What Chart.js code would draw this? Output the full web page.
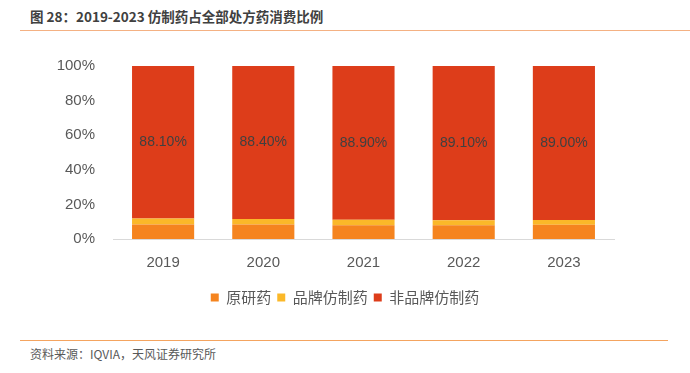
<!DOCTYPE html>
<html>
<head>
<meta charset="utf-8">
<script src="https://cdn.jsdelivr.net/npm/chart.js@4.4.1/dist/chart.umd.min.js"></script>
<style>
  body { margin: 0; width: 690px; height: 373px; background: #fff; position: relative; overflow: hidden;
         font-family: "Noto Sans CJK SC", "Noto Sans", sans-serif; }
  .title { position: absolute; left: 30px; top: 6px; font-size: 13.5px; font-weight: bold; color: #404040; }
  .topline { position: absolute; left: 20px; right: 0; top: 30px; height: 1px; background: #F4B183; }
  .botline { position: absolute; left: 20px; width: 648px; top: 340px; height: 1px; background: #F4A460; }
  .source { position: absolute; left: 30px; top: 345px; font-size: 12px; color: #595959; }
  #c { position: absolute; left: 0; top: 40px; }
</style>
</head>
<body>
<div class="title">图 28：2019-2023 仿制药占全部处方药消费比例</div>
<div class="topline"></div>
<canvas id="c" width="690" height="275"></canvas>
<div class="botline"></div>
<div class="source">资料来源：IQVIA，天风证券研究所</div>
<script>
  const years = ['2019', '2020', '2021', '2022', '2023'];
  const originalDrug = [8.4, 8.4, 8.0, 8.0, 8.3];
  const brandedGeneric = [3.5, 3.2, 3.1, 2.9, 2.7];
  const unbrandedGeneric = [88.1, 88.4, 88.9, 89.1, 89.0];
  const yTicks = [0, 20, 40, 60, 80, 100];

  const labelPlugin = {
    id: 'redLabels',
    afterDatasetsDraw(chart) {
      const ctx = chart.ctx;
      const meta = chart.getDatasetMeta(2);
      ctx.save();
      ctx.fillStyle = '#404040';
      ctx.font = '14px "Liberation Sans", Arial, sans-serif';
      ctx.textAlign = 'center';
      ctx.textBaseline = 'middle';
      meta.data.forEach((bar, i) => {
        const mid = (bar.y + bar.base) / 2;
        ctx.fillText(unbrandedGeneric[i].toFixed(2) + '%', bar.x, mid);
      });
      ctx.restore();
    }
  };

  const tickFont = { size: 15, family: '"Liberation Sans", Arial, sans-serif' };

  new Chart(document.getElementById('c'), {
    type: 'bar',
    data: {
      labels: years,
      datasets: [
        { label: '原研药', data: originalDrug, backgroundColor: '#F5841F' },
        { label: '品牌仿制药', data: brandedGeneric, backgroundColor: '#FBB829' },
        { label: '非品牌仿制药', data: unbrandedGeneric, backgroundColor: '#DD3D1A' },
      ],
    },
    options: {
      responsive: false,
      animation: false,
      layout: { padding: { top: 26, right: 0, left: 0, bottom: 0 } },
      datasets: { bar: { categoryPercentage: 1, barPercentage: 0.62 } },
      scales: {
        x: {
          stacked: true,
          grid: { display: false },
          border: { color: '#D9D9D9' },
          ticks: { color: '#595959', font: tickFont, padding: 7 },
          afterFit: (s) => { s.height += 5; },
        },
        y: {
          stacked: true,
          min: 0,
          max: 100,
          afterFit: (s) => { s.width = 113; },
          afterBuildTicks: (s) => { s.ticks = yTicks.map(v => ({ value: v })); },
          grid: { display: false },
          border: { display: false },
          ticks: {
            color: '#595959',
            padding: 10,
            font: tickFont,
            callback: (v) => v + '%',
          },
        },
        // empty right-hand axis, only reserves the blank margin so the legend stays centred on the page
        spacer: {
          position: 'right',
          grid: { display: false },
          border: { display: false },
          ticks: { display: false },
          afterFit: (s) => { s.width = 76; },
        },
      },
      plugins: {
        legend: {
          position: 'bottom',
          labels: {
            boxWidth: 8,
            boxHeight: 8,
            padding: 6,
            color: '#595959',
            font: { size: 15, family: '"Noto Sans CJK SC", sans-serif' },
          },
        },
        tooltip: { enabled: false },
      },
    },
    plugins: [labelPlugin],
  });
</script>
</body>
</html>
